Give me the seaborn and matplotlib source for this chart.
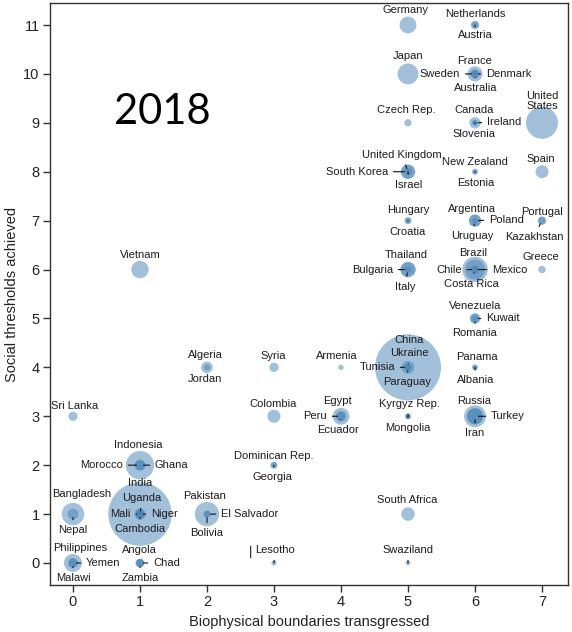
import matplotlib
matplotlib.use("Agg")
import matplotlib.pyplot as plt
import seaborn as sns
import pandas as pd

# ---------------- data ----------------
countries = [
    "Germany", "Netherlands", "Austria",
    "Japan", "France", "Sweden", "Denmark", "Australia",
    "Czech Rep.", "Canada", "Ireland", "Slovenia", "United\nStates",
    "United Kingdom", "South Korea", "Israel", "New Zealand", "Estonia", "Spain",
    "Hungary", "Croatia", "Argentina", "Poland", "Uruguay", "Portugal", "Kazakhstan",
    "Vietnam", "Thailand", "Bulgaria", "Italy", "Brazil", "Chile", "Mexico", "Costa Rica", "Greece",
    "Venezuela", "Kuwait", "Romania",
    "Algeria", "Jordan", "Syria", "Armenia", "China", "Ukraine", "Tunisia", "Paraguay", "Panama", "Albania",
    "Sri Lanka", "Colombia", "Egypt", "Peru", "Ecuador", "Kyrgyz Rep.", "Mongolia", "Russia", "Turkey", "Iran",
    "Indonesia", "Morocco", "Ghana", "Dominican Rep.", "Georgia",
    "Bangladesh", "Nepal", "India", "Uganda", "Mali", "Niger", "Cambodia",
    "Pakistan", "El Salvador", "Bolivia", "South Africa",
    "Philippines", "Yemen", "Malawi", "Angola", "Chad", "Zambia", "Lesotho", "Swaziland",
]
boundaries = [
    5, 6, 6,
    5, 6, 6, 6, 6,
    5, 6, 6, 6, 7,
    5, 5, 5, 6, 6, 7,
    5, 5, 6, 6, 6, 7, 7,
    1, 5, 5, 5, 6, 6, 6, 6, 7,
    6, 6, 6,
    2, 2, 3, 4, 5, 5, 5, 5, 6, 6,
    0, 3, 4, 4, 4, 5, 5, 6, 6, 6,
    1, 1, 1, 3, 3,
    0, 0, 1, 1, 1, 1, 1,
    2, 2, 2, 5,
    0, 0, 0, 1, 1, 1, 3, 5,
]
thresholds = [
    11, 11, 11,
    10, 10, 10, 10, 10,
    9, 9, 9, 9, 9,
    8, 8, 8, 8, 8, 8,
    7, 7, 7, 7, 7, 7, 7,
    6, 6, 6, 6, 6, 6, 6, 6, 6,
    5, 5, 5,
    4, 4, 4, 4, 4, 4, 4, 4, 4, 4,
    3, 3, 3, 3, 3, 3, 3, 3, 3, 3,
    2, 2, 2, 2, 2,
    1, 1, 1, 1, 1, 1, 1,
    1, 1, 1, 1,
    0, 0, 0, 0, 0, 0, 0, 0,
]
population = [  # millions
    82, 16.7, 8.4,
    128, 65, 9.4, 5.6, 22.3,
    10.5, 34.3, 4.6, 2.1, 311,
    62.7, 49.8, 7.8, 4.4, 1.3, 46.2,
    10.0, 4.3, 40.7, 38.5, 3.4, 10.6, 16.6,
    87.8, 69.5, 7.3, 59.4, 196.7, 17.3, 119, 4.7, 11.1,
    29.3, 3.1, 20.1,
    36, 6.2, 20.8, 3.0, 1344, 45.7, 10.7, 6.6, 3.6, 2.9,
    20.2, 46.9, 82.5, 29.4, 15.2, 5.5, 2.8, 143, 73.6, 75,
    242, 32.3, 25, 10.0, 4.5,
    150.5, 30.5, 1241, 34.5, 15.8, 16.1, 14.3,
    176.7, 6.2, 10.1, 50.6,
    94.9, 24.8, 15.4, 19.6, 11.5, 13.5, 2.2, 1.1,
]
x_ticks = [0, 1, 2, 3, 4, 5, 6, 7]
y_ticks = [0, 1, 2, 3, 4, 5, 6, 7, 8, 9, 10, 11]
year_label = "2018"
x_label = "Biophysical boundaries transgressed"
y_label = "Social thresholds achieved"

# ---------------- label layout (dx, dy in px, alignment, leader line) ----------------
layout = {
    "Germany": (-2, 15, "center", False), "Netherlands": (0, 11, "center", False),
    "Austria": (0, -10, "center", True), "Japan": (0, 18, "center", False),
    "France": (0, 13, "center", False), "Sweden": (-15, 0, "right", True),
    "Denmark": (11, 0, "left", True), "Australia": (1, -14, "center", True),
    "Czech Rep.": (-2, 13, "center", False), "Canada": (-1, 13, "center", False),
    "Ireland": (12, 1, "left", True), "Slovenia": (-1, -11, "center", True),
    "United\nStates": (0, 22, "center", False),
    "United Kingdom": (-6, 17, "center", True), "South Korea": (-20, 0, "right", True),
    "Israel": (1, -13, "center", True), "New Zealand": (0, 10, "center", False),
    "Estonia": (1, -11, "center", True), "Spain": (-1, 13, "center", False),
    "Hungary": (0, 11, "center", False), "Croatia": (0, -11, "center", True),
    "Argentina": (-3, 12, "center", False), "Poland": (14, 1, "left", True),
    "Uruguay": (-3, -15, "center", True), "Portugal": (0, 9, "center", False),
    "Kazakhstan": (-8, -16, "center", True), "Vietnam": (0, 15, "center", False),
    "Thailand": (-2, 15, "center", False), "Bulgaria": (-15, 0, "right", True),
    "Italy": (-3, -17, "center", True), "Brazil": (-2, 17, "center", False),
    "Chile": (-13, 0, "right", True), "Mexico": (17, 0, "left", True),
    "Costa Rica": (-4, -14, "center", True), "Greece": (-1, 13, "center", False),
    "Venezuela": (0, 12, "center", False), "Kuwait": (11, 0, "left", True),
    "Romania": (0, -15, "center", True), "Algeria": (-2, 12, "center", False),
    "Jordan": (-2, -12, "center", False), "Syria": (-1, 11, "center", False),
    "Armenia": (-4, 11, "center", False), "China": (1, 27, "center", False),
    "Ukraine": (1, 14, "center", True), "Tunisia": (-13, 0, "right", True),
    "Paraguay": (-1, -15, "center", True), "Panama": (2, 10, "center", False),
    "Albania": (1, -13, "center", True), "Sri Lanka": (2, 10, "center", False),
    "Colombia": (-1, 12, "center", False), "Egypt": (-4, 15, "center", False),
    "Peru": (-14, 0, "right", True), "Ecuador": (-3, -14, "center", True),
    "Kyrgyz Rep.": (1, 12, "center", True), "Mongolia": (0, -12, "center", True),
    "Russia": (-1, 15, "center", False), "Turkey": (16, 0, "left", True),
    "Iran": (0, -17, "center", True), "Indonesia": (-2, 20, "center", False),
    "Morocco": (-17, 0, "right", True), "Ghana": (15, 0, "left", True),
    "Dominican Rep.": (0, 9, "center", False), "Georgia": (-2, -12, "center", True),
    "Bangladesh": (9, 20, "center", False), "Nepal": (0, -16, "center", True),
    "India": (0, 31, "center", False), "Uganda": (2, 16, "center", True),
    "Mali": (-9, 0, "right", True), "Niger": (11, 0, "left", True),
    "Cambodia": (0, -15, "center", True), "Pakistan": (-2, 18, "center", False),
    "El Salvador": (14, 0, "left", True), "Bolivia": (0, -19, "center", True),
    "South Africa": (-1, 14, "center", False), "Philippines": (7, 15, "center", False),
    "Yemen": (13, 0, "left", True), "Malawi": (0, -15, "center", True),
    "Angola": (-1, 13, "center", False), "Chad": (13, 0, "left", True),
    "Zambia": (0, -15, "center", True), "Lesotho": (1, 13, "center", True),
    "Swaziland": (0, 13, "center", True),
}

df = pd.DataFrame({"country": countries, "boundaries": boundaries,
                   "thresholds": thresholds, "population": population})
df = df.sort_values("population", ascending=False)

sns.set_theme(style="white")
plt.rcParams["font.family"] = ["Liberation Sans", "DejaVu Sans"]

PX = 0.72  # points per pixel at dpi 100
fig = plt.figure(figsize=(5.72, 6.32), dpi=100)
ax = fig.add_axes([50 / 572, 1 - 585 / 632, 518 / 572, 582 / 632])

max_pop = df["population"].max()
s_min = 10.2
s_per = 1.673
sns.scatterplot(data=df, x="boundaries", y="thresholds", size="population",
                sizes=(s_min, s_min + s_per * max_pop), size_norm=(0, max_pop),
                color="steelblue", alpha=0.5, linewidth=0, legend=False, ax=ax,
                zorder=2)

txt_color = "#1c1c1c"
for name, xv, yv in zip(df["country"], df["boundaries"], df["thresholds"]):
    dx, dy, ha, line = layout[name]
    kw = dict(textcoords="offset points", xytext=(dx * PX, dy * PX),
              ha=ha, va="center", fontsize=8, color=txt_color, zorder=4,
              linespacing=1.0)
    if line:
        kw["arrowprops"] = dict(arrowstyle="-", color="#111111", lw=0.8,
                                shrinkA=1.5, shrinkB=2.5)
    ax.annotate(name, xy=(xv, yv), **kw)
    if name == "Lesotho":
        ax.annotate("|", xy=(xv, yv), textcoords="offset points",
                    xytext=(-23 * PX, 11 * PX), ha="center", va="center",
                    fontsize=9.5, color="#1a1a40", zorder=4)

ax.set_xlim(-0.343, 7.388)
ax.set_ylim(-0.45, 11.45)
ax.set_xticks(x_ticks)
ax.set_yticks(y_ticks)
ax.set_xticklabels([str(v) for v in x_ticks])
ax.set_yticklabels([str(v) for v in y_ticks])
ax.tick_params(axis="both", which="major", direction="out", length=5, width=1,
               color="#333333", labelsize=10.5, labelcolor="#222222", pad=2.5,
               bottom=True, left=True)
for sp in ax.spines.values():
    sp.set_color("#333333")
    sp.set_linewidth(1.0)
    sp.set_visible(True)
ax.grid(False)

ax.set_xlabel(x_label, fontsize=10.5, color="#222222")
ax.set_ylabel(y_label, fontsize=10.5, color="#222222")
ax.xaxis.set_label_coords(0.5, -0.052)
ax.yaxis.set_label_coords(-0.06, 0.5)

ax.text(0.216, 0.813, year_label, transform=ax.transAxes, ha="center", va="center",
        fontsize=30, family=["Lato", "DejaVu Sans"], color="black")

fig.savefig("out.png", dpi=100)
